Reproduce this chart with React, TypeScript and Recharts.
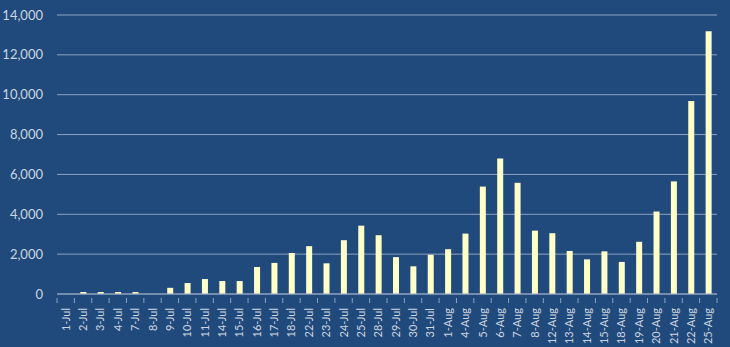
import React from 'react';
import { BarChart, Bar, XAxis, YAxis, CartesianGrid } from 'recharts';

const dates = [
    '1-Jul', '2-Jul', '3-Jul', '4-Jul', '7-Jul', '8-Jul', '9-Jul', '10-Jul', '11-Jul', '14-Jul',
    '15-Jul', '16-Jul', '17-Jul', '18-Jul', '22-Jul', '23-Jul', '24-Jul', '25-Jul', '28-Jul', '29-Jul',
    '30-Jul', '31-Jul', '1-Aug', '4-Aug', '5-Aug', '6-Aug', '7-Aug', '8-Aug', '12-Aug', '13-Aug',
    '14-Aug', '15-Aug', '18-Aug', '19-Aug', '20-Aug', '21-Aug', '22-Aug', '25-Aug',
];

const counts = [
    0, 100, 100, 100, 100, 0, 310, 550, 750, 650,
    650, 1350, 1560, 2060, 2400, 1540, 2700, 3430, 2950, 1850,
    1390, 1970, 2250, 3030, 5390, 6800, 5580, 3180, 3050, 2160,
    1740, 2140, 1610, 2620, 4140, 5650, 9680, 13180,
];

const yTicks = [0, 2000, 4000, 6000, 8000, 10000, 12000, 14000];

const data = dates.map((d, i) => ({ date: d, count: counts[i] }));

const W = 730;
const H = 347;
const LEFT = 57;
const RIGHT = 13;
const STEP = (W - LEFT - RIGHT) / dates.length;

const DateTick = ({ x, y, payload, index }: any) => {
    const left = x - STEP / 2;
    return (
        <g>
            <line x1={left} y1={y - 8} x2={left} y2={y - 3} stroke="#8fa3bf" />
            {index === dates.length - 1 && (
                <line x1={x + STEP / 2} y1={y - 8} x2={x + STEP / 2} y2={y - 3} stroke="#8fa3bf" />
            )}
            <text
                x={x}
                y={y}
                transform={`rotate(-90, ${x}, ${y})`}
                dx={-2}
                dy={4}
                textAnchor="end"
                fill="#cdd5e0"
                fontSize={11}
                fontFamily="Lato"
            >
                {payload.value}
            </text>
        </g>
    );
};

export default function App() {
    return (
        <div style={{ position: 'fixed', left: 0, top: 0, width: W, height: H, background: '#214a7c' }}>
            <BarChart
                width={W}
                height={H}
                data={data}
                margin={{ top: 15, right: RIGHT, bottom: 0, left: 0 }}
                barSize={6}
            >
                <CartesianGrid vertical={false} stroke="#8fa3bf" strokeWidth={1} />
                <XAxis
                    dataKey="date"
                    interval={0}
                    height={53}
                    tickLine={false}
                    axisLine={{ stroke: '#8fa3bf' }}
                    tick={<DateTick />}
                    tickMargin={6}
                />
                <YAxis
                    width={LEFT}
                    domain={[0, 14000]}
                    ticks={yTicks}
                    axisLine={false}
                    tickLine={false}
                    tickMargin={8}
                    tickFormatter={(v: number) => v.toLocaleString('en-US')}
                    tick={{ fill: '#cdd5e0', fontSize: 13, fontFamily: 'Lato' }}
                />
                <Bar dataKey="count" fill="#ffffc8" isAnimationActive={false} />
            </BarChart>
        </div>
    );
}
